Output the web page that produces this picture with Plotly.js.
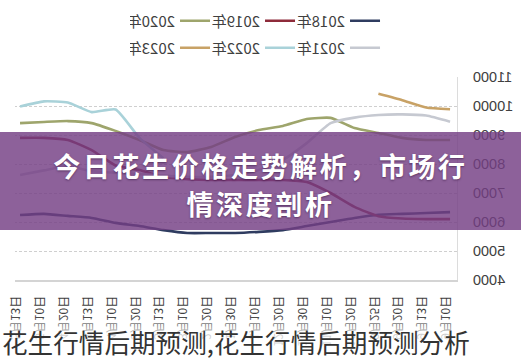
<!DOCTYPE html>
<html>
<head>
<meta charset="utf-8">
<script src="https://cdn.plot.ly/plotly-3.0.1.min.js"></script>
<style>
  html, body { margin:0; padding:0; width:521px; height:362px; overflow:hidden; background:#ffffff; }
  #chart { position:absolute; left:0; top:0; width:521px; height:362px; transform:scaleX(-1); }
  #fade { position:absolute; left:0; top:316px; width:521px; height:46px;
          background:linear-gradient(rgba(255,255,255,0.0), rgba(255,255,255,0.75) 40%, rgba(255,255,255,0.85)); }
  #banner { position:absolute; left:0; top:132px; width:521px; height:98px; background:rgba(116,62,132,0.82);
            font-family:"Noto Sans CJK SC", sans-serif; font-weight:700; color:#ffffff; font-size:27px;
            letter-spacing:2.6px; text-align:center; line-height:38px; padding-top:15px; box-sizing:border-box;
            text-shadow:0 1px 2px rgba(40,10,50,0.5); }
  #caption { position:absolute; left:2px; top:326px; font-family:"Noto Sans CJK SC", sans-serif;
             font-size:25.6px; color:#333333; white-space:nowrap; line-height:32px; }
</style>
</head>
<body>
<div id="chart"></div>
<div id="fade"></div>
<div id="banner">今日花生价格走势解析，市场行<br>情深度剖析</div>
<div id="caption">花生行情后期预测,花生行情后期预测分析</div>
<script>
const dates = ["9月10日","9月13日","9月20日","9月25日","10月20日","11月10日","11月30日","12月20日","1月10日","1月30日",
               "2月20日","3月10日","3月13日","3月20日","4月10日","4月13日","4月20日","5月10日","5月13日"];
const years = ["2018年","2019年","2020年","2021年","2022年","2023年"];
const colors = ["#2f3c60","#8e2b3a","#9ea56c","#c6c9d1","#a9d2d9","#c8a266"];
const v2018 = [6340,6310,6280,6250,6140,6000,5860,5720,5660,5620,5620,5620,5720,5860,5970,6140,6210,6280,6240];
const v2019 = [6100,6100,6120,6200,6520,7000,7380,7450,7450,7450,7450,7480,7550,7790,7950,8480,8830,8900,8900];
const v2020 = [8830,8830,8900,9070,9240,9590,9550,9310,9170,8930,8590,8410,8480,8830,9140,9410,9480,9450,9410];
const v2021 = [9460,9670,9710,9690,9600,9410,8720,8140,7790,7620,7560,7560,7600,7650,7700,7750,7930,7780,7620];
const v2022 = [null,null,null,null,null,null,null,null,null,null,null,null,8200,8900,9880,9790,10120,10160,9980];
const v2023 = [9890,9950,10200,10420,null,null,null,null,null,null,null,null,null,null,null,null,null,null,null];
const series = [v2018, v2019, v2020, v2021, v2022, v2023];
const xs = dates.map((d, i) => i);

const traces = series.map((vals, k) => ({
  type: "scatter", mode: "lines", name: years[k], x: xs, y: vals,
  line: { color: colors[k], width: 2.6, shape: "spline", smoothing: 0.5 },
  legend: k < 3 ? "legend" : "legend2", hoverinfo: "skip"
}));

const legendBase = {
  orientation: "h", xref: "container", yref: "container", xanchor: "left", yanchor: "middle",
  font: { family: "Noto Sans CJK SC, sans-serif", size: 15, color: "#404040" },
  entrywidth: 40, entrywidthmode: "pixels", bgcolor: "rgba(0,0,0,0)", itemwidth: 30, tracegroupgap: 0
};

const layout = {
  width: 521, height: 362,
  margin: { l: 64, r: 15, t: 77, b: 82 },
  paper_bgcolor: "#ffffff", plot_bgcolor: "#ffffff",
  showlegend: true,
  legend: Object.assign({}, legendBase, { x: 0.261, y: 1 - 21/362 }),
  legend2: Object.assign({}, legendBase, { x: 0.261, y: 1 - 48/362 }),
  xaxis: {
    range: [-0.29, 18.21], tickmode: "array", tickvals: xs, ticktext: dates, tickangle: -90,
    showgrid: false, zeroline: false, showline: true, linecolor: "#d4d4d4", linewidth: 2,
    ticks: "outside", ticklen: 9, tickcolor: "rgba(0,0,0,0)", ticklabelshift: 5,
    tickfont: { family: "Noto Sans CJK SC, sans-serif", size: 12, color: "#404040" }
  },
  yaxis: {
    range: [4000, 11000], tickvals: [4000,5000,6000,7000,8000,9000,10000,11000], tickformat: "d",
    showgrid: true, gridcolor: "#cfcfcf", griddash: "3px,2px", gridwidth: 1,
    zeroline: false, showline: true, linecolor: "#dcdcdc", linewidth: 1,
    ticks: "outside", ticklen: 12, tickcolor: "rgba(0,0,0,0)",
    tickfont: { family: "Liberation Sans, Arial, sans-serif", size: 14.5, color: "#404040" }
  }
};

Plotly.newPlot("chart", traces, layout, { staticPlot: true, displayModeBar: false });
</script>
</body>
</html>
